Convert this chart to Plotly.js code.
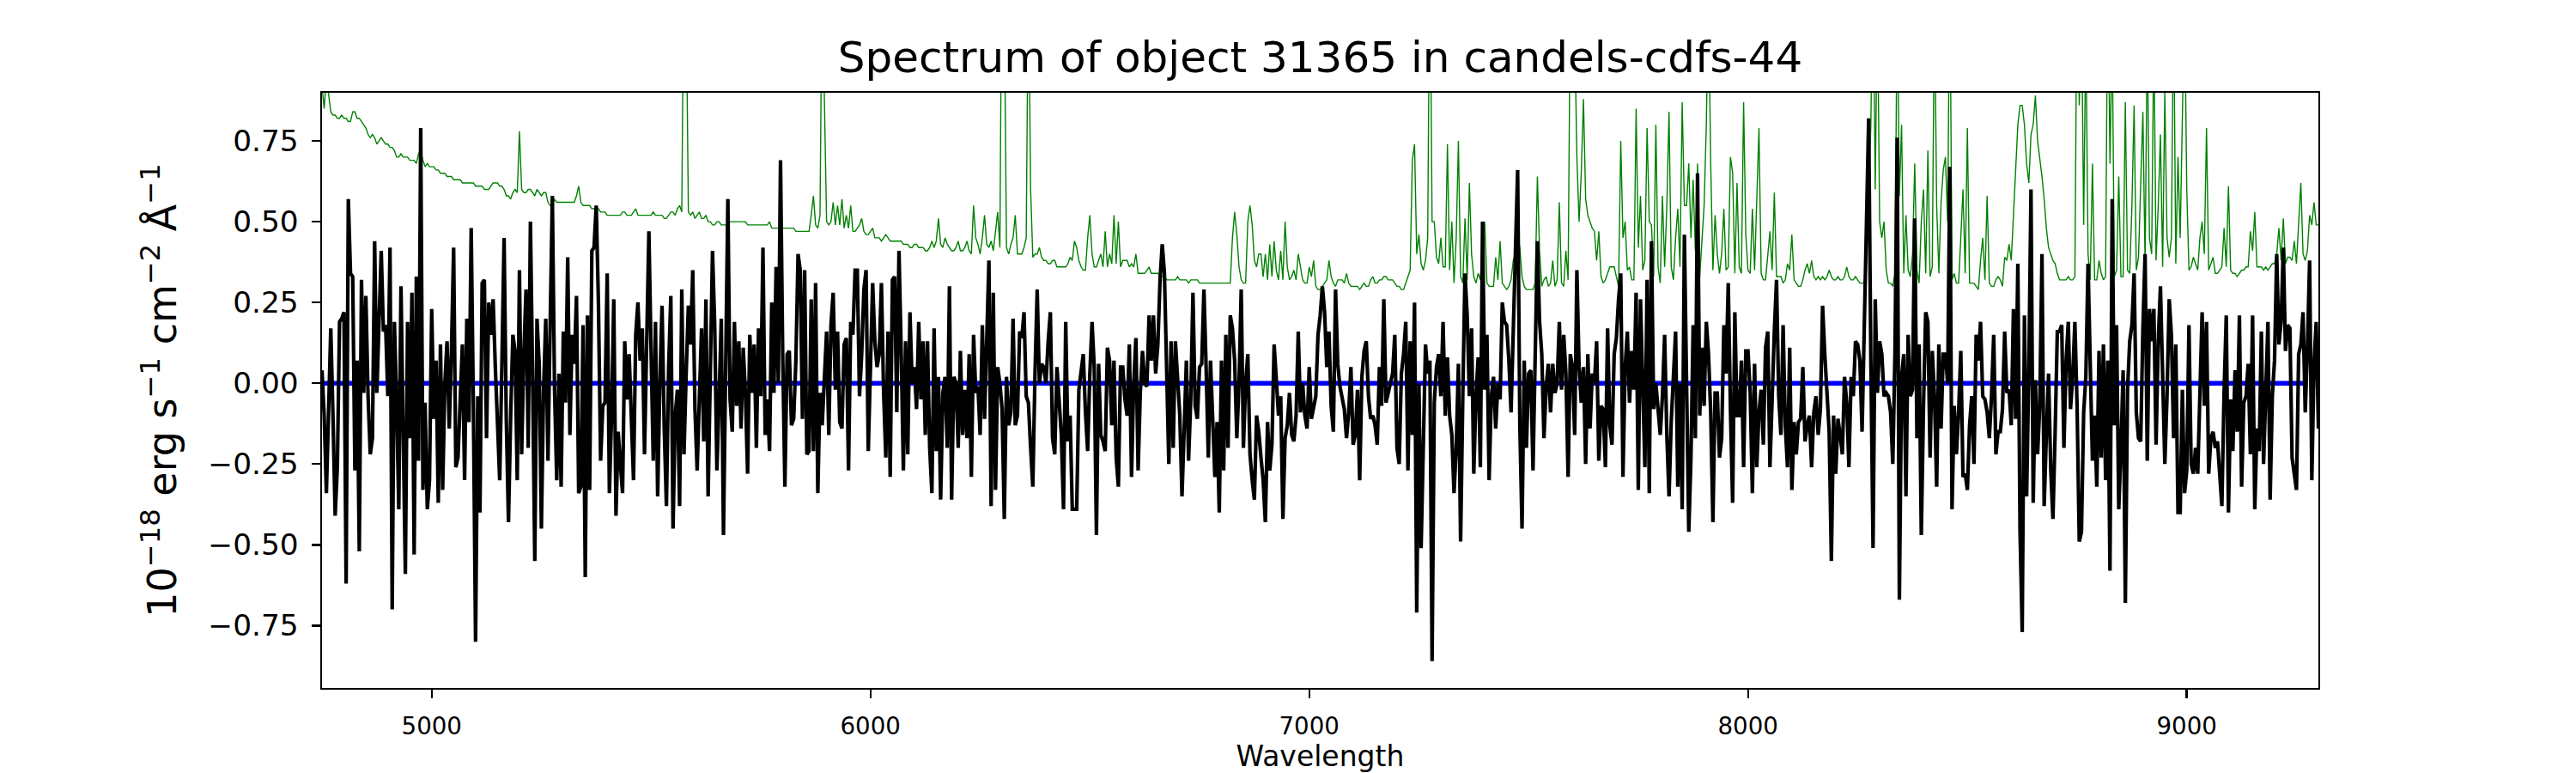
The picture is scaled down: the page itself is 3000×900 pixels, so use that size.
<!DOCTYPE html>
<html>
<head>
<meta charset="utf-8">
<script src="https://cdn.plot.ly/plotly-3.0.1.min.js"></script>
<style>
  html, body { margin: 0; padding: 0; background: #ffffff; }
  #chart { width: 3000px; height: 900px; }
</style>
</head>
<body>
<div id="chart"></div>
<script>
// ---- Data ----
// Wavelength grid of the sampled spectrum (Angstrom): first sample and step
const WAVE_START = 4750;
const WAVE_STEP = 5;

// Observed flux (black), 10^-18 erg s^-1 cm^-2 A^-1
const fluxValues = [
0.04,-0.10,-0.34,-0.05,0.17,-0.10,-0.41,-0.26,0.19,0.20,
0.22,-0.62,0.57,0.34,0.33,-0.27,0.07,-0.52,0.32,-0.03,
0.27,-0.04,-0.22,-0.17,0.44,-0.03,0.22,0.41,0.16,0.18,
-0.04,0.42,-0.70,0.19,-0.05,-0.39,0.30,-0.10,-0.59,0.19,
-0.17,0.28,-0.53,0.33,-0.24,0.79,-0.33,-0.06,-0.39,-0.30,
0.23,-0.11,0.07,-0.37,0.12,-0.33,0.00,0.13,-0.14,0.10,
0.42,-0.26,-0.23,-0.05,0.12,-0.30,0.20,-0.12,0.48,-0.07,
-0.80,-0.04,-0.40,0.31,0.32,-0.17,0.25,0.15,0.26,0.05,
-0.17,-0.30,0.06,0.45,-0.11,-0.43,-0.10,0.15,0.10,-0.30,
0.35,-0.22,0.09,0.29,-0.20,0.50,0.02,-0.55,0.20,0.06,
-0.45,-0.02,0.20,-0.24,0.18,0.58,-0.02,-0.30,0.03,-0.32,
0.16,-0.06,0.39,-0.16,0.15,0.06,0.27,-0.34,-0.32,0.18,
-0.60,0.21,-0.33,0.41,0.42,0.55,0.25,-0.24,-0.07,-0.06,
0.34,-0.34,-0.10,0.26,-0.41,-0.15,-0.25,-0.34,0.13,-0.05,
0.09,-0.14,-0.30,0.15,0.25,0.07,0.17,-0.22,0.10,0.47,
0.10,-0.24,0.19,-0.35,0.00,0.24,-0.14,-0.38,0.05,0.27,
-0.45,-0.10,-0.02,-0.38,0.29,-0.22,0.03,0.24,0.12,0.35,
-0.08,-0.27,-0.05,0.17,-0.18,0.26,-0.35,0.05,0.41,0.18,
-0.27,-0.05,0.20,-0.47,
0.05,0.57,-0.05,-0.15,0.19,-0.07,
0.13,-0.14,0.11,-0.03,-0.28,0.15,-0.03,0.12,-0.20,0.17,
-0.04,0.42,-0.16,-0.05,-0.21,0.25,-0.03,0.36,0.00,0.69,
0.09,-0.32,0.09,0.10,-0.13,-0.11,0.07,0.40,0.35,-0.11,
0.35,-0.22,-0.21,0.26,-0.21,0.31,-0.34,-0.03,-0.13,0.02,
0.16,-0.16,0.18,0.28,-0.02,0.16,-0.12,-0.14,0.12,0.14,
-0.27,0.19,0.15,0.35,0.35,-0.04,0.09,0.29,0.35,-0.21,
0.07,0.31,0.13,0.05,0.09,0.31,-0.03,-0.23,0.16,-0.29,
0.32,0.33,-0.09,0.41,0.10,-0.27,0.13,-0.22,0.22,0.00,
0.05,-0.08,0.19,-0.05,0.13,-0.16,0.13,-0.20,-0.34,0.17,
-0.21,0.02,-0.36,-0.03,0.02,-0.20,0.30,-0.36,0.02,0.00,
-0.20,0.10,-0.16,-0.02,-0.17,0.09,-0.29,0.15,-0.03,-0.01,
-0.16,0.18,-0.11,0.19,0.38,-0.38,0.28,-0.33,0.05,0.00,
-0.08,-0.42,0.02,-0.13,-0.09,0.20,-0.13,-0.10,0.16,0.14,
0.22,-0.04,-0.06,-0.20,-0.32,0.03,0.29,0.00,0.06,0.05,
0.00,0.13,0.22,-0.17,-0.22,0.05,-0.08,-0.16,-0.39,0.19,
-0.18,-0.10,-0.39,-0.39,-0.39,-0.02,0.04,0.09,-0.09,-0.21,
0.03,0.19,0.05,-0.47,0.06,-0.16,-0.18,-0.21,0.11,0.07,
-0.13,0.07,-0.23,-0.32,0.05,0.05,
-0.05,-0.10,0.12,-0.29,
0.00,0.14,-0.27,-0.03,0.10,0.00,-0.01,0.21,0.07,0.21,
0.03,0.12,0.32,0.43,0.34,0.00,-0.25,0.13,-0.20,0.13,
-0.01,-0.10,-0.35,-0.12,0.07,-0.24,-0.05,0.28,-0.07,-0.11,
0.05,0.06,0.29,0.05,-0.23,0.07,-0.14,-0.29,-0.12,-0.40,
0.07,-0.27,0.15,-0.20,0.21,0.17,0.07,-0.17,0.00,0.29,
-0.20,0.00,0.09,-0.22,-0.30,-0.36,-0.10,-0.15,-0.23,-0.30,
-0.43,-0.12,-0.27,-0.19,0.12,0.02,-0.10,-0.04,-0.42,-0.17,
-0.13,-0.03,-0.16,-0.18,-0.10,0.16,-0.09,0.00,-0.10,-0.14,
0.05,-0.11,-0.08,-0.04,0.15,0.21,0.30,0.22,0.05,0.16,
-0.07,-0.15,0.29,0.06,-0.01,-0.04,-0.08,-0.17,-0.09,0.05,
-0.19,-0.16,-0.02,-0.30,0.02,0.10,0.13,-0.04,-0.11,-0.10,
-0.13,-0.19,0.05,-0.07,0.26,-0.06,-0.03,0.00,0.03,0.15,
-0.20,-0.25,0.03,0.09,0.19,-0.27,0.13,-0.16,0.25,-0.71,
0.00,-0.51,-0.16,0.12,0.03,0.07,-0.86,-0.06,0.05,0.09,
-0.04,0.19,-0.10,0.08,-0.10,-0.16,-0.34,-0.20,0.06,-0.49,
-0.04,0.34,0.21,-0.04,0.17,-0.28,-0.04,0.08,-0.26,0.50,
-0.02,0.15,-0.30,-0.04,0.02,-0.14,0.00,-0.05,0.25,0.19,
0.18,0.07,-0.09,0.17,0.49,0.66,-0.13,-0.45,
0.07,-0.20,
0.03,0.04,-0.27,0.13,0.44,0.19,0.09,-0.17,-0.01,0.06,
-0.09,0.06,-0.03,0.00,0.19,-0.02,0.15,0.03,-0.29,0.09,
0.05,-0.16,0.35,0.05,-0.06,0.05,-0.25,0.09,-0.14,0.03,
0.00,0.13,-0.24,-0.07,-0.08,-0.26,0.17,-0.13,-0.19,0.09,
0.14,0.26,0.34,-0.29,0.05,0.16,-0.06,0.10,-0.02,0.28,
-0.33,0.26,-0.05,-0.26,0.32,-0.34,0.44,-0.08,0.00,-0.07,
-0.16,-0.04,0.15,-0.16,-0.35,-0.12,0.02,0.16,-0.32,0.00,
-0.39,0.46,0.00,-0.46,-0.23,0.18,-0.17,0.65,-0.10,0.11,
-0.07,0.19,0.09,-0.09,-0.43,-0.03,-0.03,-0.23,-0.17,0.18,
0.03,0.31,-0.08,-0.37,0.22,-0.10,-0.10,0.07,-0.26,0.10,
0.10,-0.03,-0.34,0.06,-0.26,-0.09,-0.02,-0.19,0.11,0.16,
-0.26,0.00,0.16,0.32,-0.04,-0.16,0.18,-0.13,-0.26,0.11,
-0.33,-0.12,-0.22,-0.12,-0.11,0.05,-0.18,-0.13,-0.10,-0.26,
-0.09,-0.04,-0.16,-0.08,0.24,0.09,-0.04,-0.15,-0.55,-0.10,
-0.28,-0.11,-0.16,-0.22,0.02,-0.06,-0.26,0.02,-0.04,0.13,
0.12,0.07,-0.15,0.18,0.55,0.82,0.07,-0.51,0.26,-0.03,
0.13,0.09,-0.04,-0.03,-0.04,-0.09,-0.25,0.10,0.76,-0.67,
0.02,0.09,-0.35,0.15,-0.04,-0.02,0.51,-0.17,0.12,-0.47,
-0.07,0.22,0.19,-0.23,0.10,-0.04,-0.32,0.12,-0.14,0.09,
0.09,0.00,0.67,-0.39,-0.07,-0.22,-0.09,0.10,-0.29,-0.28,
-0.33,-0.13,-0.04,-0.25,0.15,0.07,0.19,-0.04,-0.05,-0.09,
-0.17,-0.04,0.15,-0.22,-0.15,-0.15,-0.08,0.16,-0.03,-0.02,
-0.13,0.23,-0.11,0.37,-0.46,-0.77,0.21,-0.35,0.04,0.60,
-0.37,0.01,-0.22,-0.07,0.40,-0.38,-0.16,0.03,-0.27,-0.42,
-0.15,0.16,0.16,0.18,-0.20,0.07,0.19,-0.08,0.02,0.19,
-0.07,-0.49,-0.46,-0.09,0.02,0.37,0.06,-0.24,-0.10,-0.32,
0.10,-0.23,0.12,-0.30,0.07,-0.58,0.57,-0.13,0.18,-0.39,
-0.20,0.04,-0.68,-0.02,0.13,0.18,0.34,-0.09,-0.17,-0.18,
0.17,0.40,-0.24,0.23,0.13,0.23,-0.19,0.13,0.30,0.02,
-0.25,-0.04,0.26,0.15,-0.17,0.12,-0.40,-0.40,-0.02,-0.34,
-0.27,0.18,-0.25,-0.28,-0.20,-0.28,-0.06,0.22,-0.07,0.19,
-0.28,-0.17,-0.15,-0.20,-0.18,-0.28,-0.38,-0.03,0.21,-0.40,
-0.05,-0.21,0.04,-0.15,0.21,-0.32,-0.06,-0.04,0.06,-0.22,
0.21,-0.39,-0.14,-0.21,0.16,-0.25,0.00,0.19,-0.36,-0.04,
0.07,0.40,0.12,0.19,0.42,0.10,0.18,0.17,-0.23,-0.28,
-0.33,0.09,0.12,0.22,-0.09,0.11,0.38,-0.30,0.06,0.19,
-0.14
];

// Sky / noise spectrum (green), same grid
const skyValues = [
0.92,0.85,0.95,0.90,0.84,0.83,0.83,0.82,0.82,0.83,
0.82,0.82,0.81,0.81,0.84,0.84,0.82,0.82,0.81,0.80,
0.79,0.77,0.76,0.77,0.76,0.74,0.75,0.76,0.75,0.74,
0.74,0.73,0.73,0.72,0.70,0.70,0.71,0.70,0.70,0.70,
0.69,0.69,0.69,0.68,0.71,0.72,0.69,0.67,0.68,0.67,
0.67,0.67,0.66,0.66,0.65,0.65,0.65,0.64,0.64,0.64,
0.63,0.63,0.63,0.63,0.62,0.62,0.62,0.62,0.62,0.62,
0.61,0.61,0.61,0.61,0.60,0.60,0.60,0.61,0.62,0.62,
0.62,0.61,0.61,0.60,0.58,0.58,0.57,0.59,0.60,0.59,
0.78,0.60,0.59,0.59,0.60,0.60,0.59,0.58,0.60,0.59,
0.58,0.59,0.59,0.56,0.55,0.55,0.57,0.56,0.56,0.56,
0.56,0.56,0.56,0.56,0.56,0.56,0.58,0.61,0.56,0.55,
0.55,0.55,0.55,0.54,0.54,0.54,0.54,0.53,0.53,0.53,
0.52,0.52,0.52,0.52,0.52,0.52,0.52,0.53,0.53,0.52,
0.52,0.52,0.53,0.54,0.52,0.52,0.52,0.52,0.52,0.52,
0.52,0.53,0.52,0.52,0.52,0.52,0.51,0.51,0.52,0.53,
0.53,0.52,0.54,0.55,0.53,1.40,1.20,0.53,0.52,0.53,
0.51,0.52,0.53,0.51,0.51,0.52,0.50,0.50,0.49,0.49,
0.50,0.50,0.49,0.49,
0.49,0.49,0.50,0.50,0.50,0.50,
0.50,0.50,0.50,0.50,0.49,0.49,0.49,0.49,0.49,0.49,
0.49,0.49,0.49,0.49,0.50,0.48,0.48,0.48,0.48,0.48,
0.48,0.48,0.48,0.48,0.48,0.48,0.47,0.47,0.47,0.47,
0.47,0.47,0.47,0.52,0.58,0.49,0.48,0.52,1.30,0.88,
0.50,0.49,0.50,0.56,0.49,0.55,0.49,0.57,0.48,0.52,
0.48,0.55,0.47,0.47,0.48,0.49,0.51,0.47,0.46,0.46,
0.47,0.48,0.45,0.45,0.45,0.44,0.45,0.46,0.45,0.44,
0.44,0.44,0.44,0.44,0.44,0.43,0.43,0.43,0.42,0.42,
0.43,0.43,0.42,0.42,0.42,0.41,0.41,0.42,0.44,0.42,
0.44,0.51,0.43,0.42,0.45,0.43,0.42,0.41,0.41,0.42,
0.44,0.41,0.41,0.42,0.44,0.41,0.40,0.55,0.45,0.43,
0.40,0.45,0.52,0.43,0.42,0.44,0.41,0.48,0.53,0.42,
1.50,1.20,0.42,0.40,0.43,0.45,0.52,0.40,0.40,0.40,
0.42,0.45,1.30,0.60,0.39,0.40,0.40,0.42,0.39,0.38,
0.38,0.37,0.37,0.38,0.38,0.36,0.36,0.36,0.36,0.36,
0.37,0.39,0.38,0.44,0.42,0.38,0.36,0.35,0.35,0.45,
0.52,0.40,0.36,0.36,0.38,0.40,0.36,0.47,0.36,0.40,
0.37,0.52,0.37,0.50,0.36,0.38,
0.38,0.38,0.36,0.37,
0.36,0.40,0.34,0.34,0.34,0.34,0.35,0.36,0.34,0.34,
0.34,0.34,0.33,0.33,0.33,0.32,0.32,0.32,0.32,0.32,
0.33,0.32,0.32,0.32,0.32,0.31,0.32,0.32,0.32,0.32,
0.31,0.31,0.31,0.31,0.31,0.31,0.31,0.31,0.31,0.31,
0.31,0.31,0.31,0.31,0.31,0.45,0.53,0.46,0.36,0.32,
0.31,0.31,0.50,0.55,0.49,0.38,0.36,0.40,0.40,0.33,
0.40,0.32,0.43,0.33,0.44,0.35,0.32,0.41,0.32,0.50,
0.36,0.32,0.33,0.35,0.32,0.40,0.36,0.32,0.31,0.31,
0.36,0.33,0.38,0.30,0.29,0.29,0.30,0.31,0.32,0.38,
0.33,0.31,0.30,0.32,0.32,0.32,0.31,0.34,0.31,0.30,
0.30,0.30,0.30,0.29,0.30,0.31,0.30,0.30,0.32,0.33,
0.31,0.31,0.32,0.32,0.33,0.33,0.32,0.32,0.32,0.31,
0.30,0.30,0.29,0.29,0.31,0.33,0.35,0.69,0.74,0.40,
0.46,0.37,0.35,0.38,0.45,1.40,0.50,0.50,0.39,0.37,
0.45,0.36,0.36,0.74,0.35,0.50,0.31,0.45,0.75,0.33,
0.31,0.51,0.32,0.62,0.40,0.33,0.31,0.34,0.32,0.45,
0.50,0.31,0.30,0.30,0.30,0.39,0.32,0.44,0.31,0.30,
0.29,0.30,0.32,0.38,0.40,0.46,0.42,0.33,
0.30,0.29,
0.29,0.29,0.29,0.31,0.64,0.41,0.30,0.32,0.33,0.30,
0.31,0.38,0.30,0.32,0.56,0.31,0.30,0.41,0.32,1.20,
1.50,1.10,0.70,0.50,0.65,0.88,0.57,0.52,0.50,0.48,
0.47,0.38,0.47,0.33,0.31,0.32,0.34,0.36,0.36,0.36,
0.33,0.30,0.75,0.45,0.50,0.35,0.36,0.32,0.32,0.85,
0.42,0.58,0.35,0.38,0.79,0.50,0.49,0.33,0.80,0.36,
0.31,0.58,0.36,0.55,0.84,0.36,0.32,0.45,0.54,0.36,
0.87,0.55,0.55,0.68,0.45,0.63,0.41,0.68,0.33,0.44,
0.55,0.80,1.20,0.68,0.35,0.52,0.40,0.34,0.40,0.54,
0.35,0.36,0.70,0.65,0.34,0.62,0.36,0.34,0.87,0.46,
0.35,0.34,0.54,0.35,0.55,0.79,0.34,0.32,0.32,0.40,
0.47,0.35,0.59,0.33,0.33,0.33,0.31,0.32,0.37,0.35,
0.46,0.32,0.31,0.30,0.30,0.32,0.35,0.37,0.34,0.38,
0.33,0.32,0.33,0.32,0.33,0.32,0.33,0.35,0.33,0.32,
0.32,0.33,0.32,0.32,0.33,0.36,0.33,0.32,0.32,0.33,
0.32,0.31,0.31,0.31,0.38,0.62,0.80,1.30,0.60,1.20,
0.50,0.45,0.50,0.35,0.31,0.31,0.30,0.34,1.20,0.58,
0.80,0.34,0.52,0.35,0.33,0.40,0.68,0.35,0.31,0.50,
0.60,0.34,0.72,0.33,0.36,1.20,0.55,0.34,0.56,0.66,
0.70,0.50,1.30,0.32,0.34,0.31,0.31,0.45,0.60,0.34,
0.79,0.31,0.31,0.31,0.30,0.29,0.38,0.45,0.32,0.58,
0.31,0.30,0.30,0.32,0.33,0.32,0.30,0.39,0.38,0.43,
0.38,0.52,0.70,0.80,0.86,0.86,0.80,0.68,0.62,0.77,
0.80,0.89,0.75,0.70,0.64,0.57,0.48,0.42,0.40,0.38,
0.37,0.34,0.32,0.32,0.32,0.32,0.33,0.32,0.32,0.33,
1.30,0.86,1.20,0.49,1.10,0.40,0.32,0.68,0.32,0.32,
0.38,0.34,0.32,0.33,1.30,0.68,1.10,0.33,0.35,0.64,
0.33,0.33,0.87,0.35,0.34,0.55,0.86,0.35,0.39,0.60,
0.84,0.37,1.10,0.45,0.40,1.10,0.38,0.55,0.77,0.36,
0.90,0.45,0.39,0.45,1.20,0.37,0.70,0.45,0.80,1.20,
0.60,0.35,0.36,0.39,0.37,0.35,0.45,0.50,0.40,0.79,
0.35,0.37,0.39,0.34,0.34,0.35,0.36,0.48,0.36,0.61,
0.35,0.34,0.34,0.33,0.34,0.35,0.35,0.36,0.36,0.47,
0.41,0.53,0.36,0.36,0.36,0.35,0.36,0.35,0.36,0.37,
0.37,0.40,0.48,0.38,0.51,0.37,0.39,0.39,0.38,0.44,
0.37,0.50,0.62,0.40,0.38,0.41,0.52,0.49,0.56,0.49,
0.49
];

// Model (blue): flat at zero over its wavelength span
const modelWave = [4750, 9265];
const modelFlux = [0, 0];

// Axis ticks
const xTickVals = [5000, 6000, 7000, 8000, 9000];
const xTickText = ["5000", "6000", "7000", "8000", "9000"];
const yTickVals = [-0.75, -0.5, -0.25, 0, 0.25, 0.5, 0.75];
const yTickText = ["\u22120.75", "\u22120.50", "\u22120.25", "0.00", "0.25", "0.50", "0.75"];

const TITLE = "Spectrum of object 31365 in candels-cdfs-44";
const XLABEL = "Wavelength";
const YLABEL = "10<sup>\u221218</sup> erg s<sup>\u22121</sup> cm<sup>\u22122</sup> \u00c5<sup>\u22121</sup>";

// ---- Plot ----
const FONT = "DejaVu Sans, Verdana, sans-serif";

const traces = [
  {
    type: "scatter", mode: "lines", name: "sky",
    x0: WAVE_START, dx: WAVE_STEP, y: skyValues,
    line: { color: "#008000", width: 1.4 },
    hoverinfo: "skip"
  },
  {
    type: "scatter", mode: "lines", name: "model",
    x: modelWave, y: modelFlux,
    line: { color: "#0000ff", width: 5.5 },
    hoverinfo: "skip"
  },
  {
    type: "scatter", mode: "lines", name: "flux",
    x0: WAVE_START, dx: WAVE_STEP, y: fluxValues,
    line: { color: "#000000", width: 4.2 },
    hoverinfo: "skip"
  }
];

const axisCommon = {
  showgrid: false, zeroline: false,
  showline: true, mirror: true, linecolor: "#000000", linewidth: 2.4,
  ticks: "outside", ticklen: 10, tickwidth: 2.4, tickcolor: "#000000",
  automargin: false
};

const layout = {
  width: 3000, height: 900,
  paper_bgcolor: "#ffffff", plot_bgcolor: "#ffffff",
  margin: { l: 375, r: 300, t: 108, b: 99, pad: 0 },
  showlegend: false,
  font: { family: FONT, color: "#000000" },
  title: {
    text: TITLE,
    font: { family: FONT, size: 50, color: "#000000" },
    x: 0.5, xref: "paper", xanchor: "center",
    y: 1 - 66 / 900, yref: "container", yanchor: "middle"
  },
  xaxis: Object.assign({}, axisCommon, {
    range: [4750, 9300],
    tickmode: "array", tickvals: xTickVals, ticktext: xTickText,
    tickfont: { family: FONT, size: 27.7, color: "#000000" },
    ticklabelstandoff: 8,
    title: { text: XLABEL, font: { family: FONT, size: 33, color: "#000000" }, standoff: 8 }
  }),
  yaxis: Object.assign({}, axisCommon, {
    range: [-0.943, 0.899],
    tickmode: "array", tickvals: yTickVals, ticktext: yTickText,
    tickfont: { family: FONT, size: 34.4, color: "#000000" },
    ticklabelstandoff: 8,
    title: { text: YLABEL, font: { family: FONT, size: 46, color: "#000000" }, standoff: 22 }
  })
};

Plotly.newPlot("chart", traces, layout, { displayModeBar: false, staticPlot: true, responsive: false });
</script>
</body>
</html>
